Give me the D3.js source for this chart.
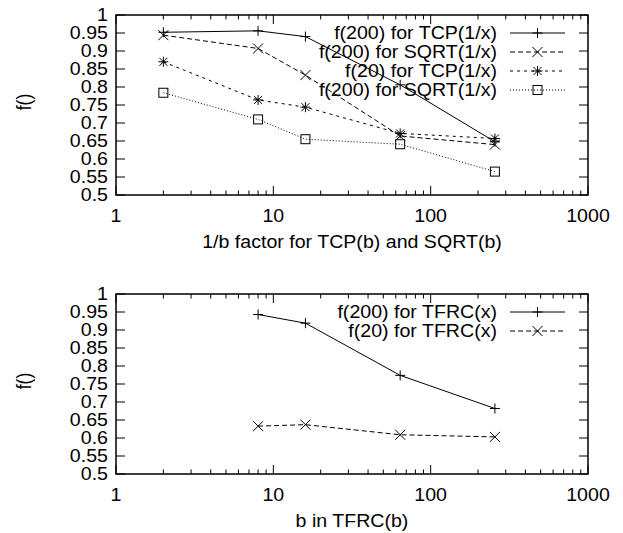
<!DOCTYPE html>
<html>
<head>
<meta charset="utf-8">
<script src="https://cdn.jsdelivr.net/npm/d3@7"></script>
<style>
  body { margin: 0; background: #fff; }
  text { font-family: "Liberation Sans", Arial, Helvetica, sans-serif; font-size: 17.5px; fill: #000; }
</style>
</head>
<body>
<div id="chart"></div>
<script>
// x values (log scale)
var xTop = [2, 8, 16, 64, 256];
var xBottom = [8, 16, 64, 256];

// top panel series
var tcp200 = [0.952, 0.956, 0.940, 0.806, 0.648];
var sqrt200 = [0.944, 0.907, 0.833, 0.664, 0.640];
var tcp20 = [0.870, 0.764, 0.744, 0.671, 0.657];
var sqrt200b = [0.784, 0.710, 0.655, 0.641, 0.565];

// bottom panel series
var tfrc200 = [0.943, 0.919, 0.774, 0.682];
var tfrc20 = [0.633, 0.637, 0.609, 0.603];

// axis ticks
var yTicks = [0.5, 0.55, 0.6, 0.65, 0.7, 0.75, 0.8, 0.85, 0.9, 0.95, 1];
var xTicks = [1, 10, 100, 1000];

var width = 623, height = 533;
// the reference text is a bit wider than it is tall
var stretch = 1.12;

var svg = d3.select("#chart")
	.append("svg")
		.attr("width", width)
		.attr("height", height);

// text helper
function label(g, x, y, str, anchor, dy) {
	return g.append("text")
		.attr("transform", "translate(" + x + "," + y + ") scale(" + stretch + ",1)")
		.attr("text-anchor", anchor)
		.attr("dy", dy || null)
		.text(str);
}

// marker drawing
function drawMarker(g, type, x, y) {
	var s = 5;
	if (type == "plus" || type == "star") {
		g.append("path").attr("d", "M" + (x - s) + "," + y + "H" + (x + s) + "M" + x + "," + (y - s) + "V" + (y + s))
			.attr("stroke", "#000").attr("stroke-width", 1).attr("fill", "none");
	}
	if (type == "cross" || type == "star") {
		var c = type == "star" ? 4 : 5;
		g.append("path").attr("d", "M" + (x - c) + "," + (y - c) + "L" + (x + c) + "," + (y + c) + "M" + (x - c) + "," + (y + c) + "L" + (x + c) + "," + (y - c))
			.attr("stroke", "#000").attr("stroke-width", 1).attr("fill", "none");
	}
	if (type == "box") {
		g.append("rect").attr("x", x - 4.5).attr("y", y - 4.5).attr("width", 9).attr("height", 9)
			.attr("stroke", "#000").attr("stroke-width", 1).attr("fill", "none");
	}
}

function panel(top, xs, series, xTitle) {
	var left = 116, right = 588, plotH = 180;
	var x = d3.scaleLog().domain([1, 1000]).range([left, right]);
	var y = d3.scaleLinear().domain([0.5, 1]).range([top + plotH, top]);
	var g = svg.append("g");

	// minor + major x ticks, mirrored top and bottom
	var minor = [];
	for (var d = 1; d < 1000; d *= 10)
		for (var m = 2; m <= 9; m++) minor.push(d * m);
	minor.forEach(function (v) {
		g.append("line").attr("x1", x(v)).attr("x2", x(v)).attr("y1", top + plotH).attr("y2", top + plotH - 4.5).attr("stroke", "#000");
		g.append("line").attr("x1", x(v)).attr("x2", x(v)).attr("y1", top).attr("y2", top + 4.5).attr("stroke", "#000");
	});
	xTicks.forEach(function (v) {
		g.append("line").attr("x1", x(v)).attr("x2", x(v)).attr("y1", top + plotH).attr("y2", top + plotH - 9).attr("stroke", "#000");
		g.append("line").attr("x1", x(v)).attr("x2", x(v)).attr("y1", top).attr("y2", top + 9).attr("stroke", "#000");
		label(g, x(v), top + plotH + 27, v, "middle");
	});

	// y ticks both sides
	yTicks.forEach(function (v) {
		g.append("line").attr("x1", left).attr("x2", left + 9).attr("y1", y(v)).attr("y2", y(v)).attr("stroke", "#000");
		g.append("line").attr("x1", right).attr("x2", right - 9).attr("y1", y(v)).attr("y2", y(v)).attr("stroke", "#000");
		label(g, left - 8, y(v), v, "end", "0.35em");
	});

	// frame
	g.append("rect").attr("x", left).attr("y", top).attr("width", right - left).attr("height", plotH)
		.attr("fill", "none").attr("stroke", "#000").attr("stroke-width", 1.5);

	// axis titles
	label(g, (left + right) / 2, top + plotH + 53, xTitle, "middle");
	g.append("text").attr("transform", "translate(31," + (top + 87) + ") rotate(-90) scale(1," + stretch + ")")
		.attr("text-anchor", "middle").text("f()");

	// series
	var line = d3.line().x(function (d) { return x(d[0]); }).y(function (d) { return y(d[1]); });
	series.forEach(function (s, i) {
		var pts = xs.map(function (xv, j) { return [xv, s.values[j]]; });
		g.append("path").datum(pts).attr("d", line)
			.attr("fill", "none").attr("stroke", "#000").attr("stroke-width", 1)
			.attr("stroke-dasharray", s.dash);
		pts.forEach(function (p) { drawMarker(g, s.marker, x(p[0]), y(p[1])); });

		// legend entry
		var ly = top + 18 + i * 19;
		label(g, 497, ly, s.label, "end", "0.35em");
		g.append("line").attr("x1", 510).attr("x2", 565).attr("y1", ly).attr("y2", ly)
			.attr("stroke", "#000").attr("stroke-dasharray", s.dash);
		drawMarker(g, s.marker, 537.5, ly);
	});
}

panel(15, xTop, [
	{ label: "f(200) for TCP(1/x)", values: tcp200, dash: null, marker: "plus" },
	{ label: "f(200) for SQRT(1/x)", values: sqrt200, dash: "5,3", marker: "cross" },
	{ label: "f(20) for TCP(1/x)", values: tcp20, dash: "3,4", marker: "star" },
	{ label: "f(200) for SQRT(1/x)", values: sqrt200b, dash: "1,2", marker: "box" }
], "1/b factor for TCP(b) and SQRT(b)");

panel(294, xBottom, [
	{ label: "f(200) for TFRC(x)", values: tfrc200, dash: null, marker: "plus" },
	{ label: "f(20) for TFRC(x)", values: tfrc20, dash: "5,3", marker: "cross" }
], "b in TFRC(b)");
</script>
</body>
</html>
